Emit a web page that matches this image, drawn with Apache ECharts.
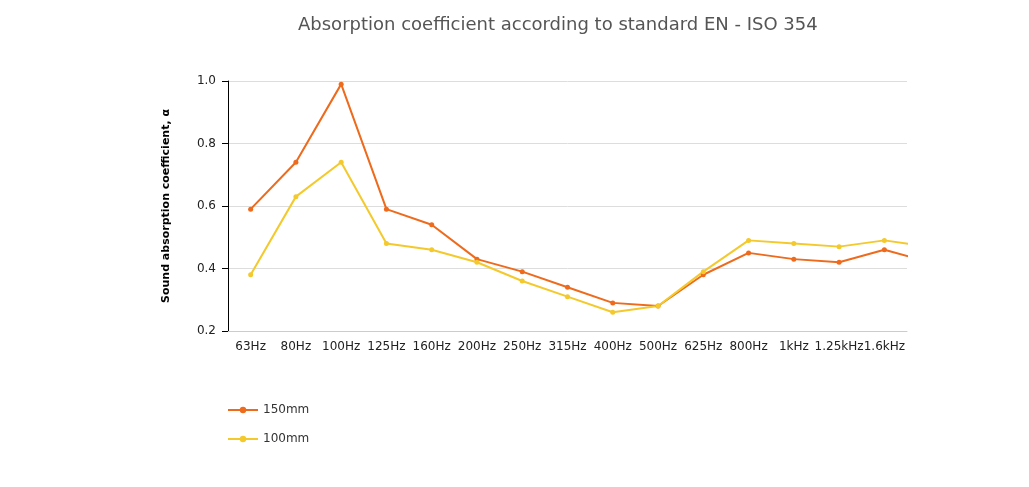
<!DOCTYPE html>
<html><head><meta charset="utf-8">
<script src="https://cdn.jsdelivr.net/npm/echarts@6/dist/echarts.min.js"></script>
<style>html,body{margin:0;padding:0;background:#fff}#c{width:1029px;height:487px}</style>
</head><body><div id="c"></div>
<script>
const categories = ['63Hz','80Hz','100Hz','125Hz','160Hz','200Hz','250Hz','315Hz','400Hz','500Hz','625Hz','800Hz','1kHz','1.25kHz','1.6kHz','2kHz'];
const visibleCategories = categories.slice(0, 15);
const s150 = [0.59,0.74,0.99,0.59,0.54,0.43,0.39,0.34,0.29,0.28,0.38,0.45,0.43,0.42,0.46,0.42];
const s100 = [0.38,0.63,0.74,0.48,0.46,0.42,0.36,0.31,0.26,0.28,0.39,0.49,0.48,0.47,0.49,0.47];
const yTicks = [0.2,0.4,0.6,0.8,1.0];

const font = '"DejaVu Sans", Verdana, sans-serif';
const chart = echarts.init(document.getElementById('c'));
chart.setOption({
  animation: false,
  title: {text: 'Absorption coefficient according to standard EN - ISO 354', left: 293, top: 11,
    textStyle: {fontFamily: font, fontSize: 18, fontWeight: 'normal', color: '#555'}},
  grid: {left: 228, right: 122, top: 81, bottom: 156},
  legend: {orient: 'vertical', left: 222, top: 399, itemWidth: 30, itemHeight: 8, itemGap: 17,
    textStyle: {fontFamily: font, fontSize: 12, color: '#333'}},
  xAxis: [
    {type: 'category', data: visibleCategories, boundaryGap: true,
      axisLine: {lineStyle: {color: '#ccc'}}, axisTick: {show: false},
      axisLabel: {fontFamily: font, fontSize: 12, color: '#222', margin: 10, interval: 0}},
    {type: 'value', min: -0.5, max: 14.5, show: false}
  ],
  yAxis: {type: 'value', min: yTicks[0], max: yTicks[yTicks.length-1], interval: 0.2,
    name: 'Sound absorption coefficient, α', nameLocation: 'middle', nameGap: 56,
    nameTextStyle: {fontFamily: font, fontSize: 11, fontWeight: 'bold', color: '#000'},
    axisLine: {show: true, onZero: false, lineStyle: {color: '#000'}},
    axisTick: {show: true, length: 6, lineStyle: {color: '#000'}},
    axisLabel: {fontFamily: font, fontSize: 12, color: '#222', margin: 12, formatter: v => v.toFixed(1)},
    splitLine: {lineStyle: {color: '#ddd'}}},
  series: [
    {name: '150mm', type: 'line', xAxisIndex: 1, clip: true,
      data: s150.map((v,i)=>[i,v]), symbol: 'circle', symbolSize: 5,
      color: '#ee6a1c', lineStyle: {width: 2}},
    {name: '100mm', type: 'line', xAxisIndex: 1, clip: true,
      data: s100.map((v,i)=>[i,v]), symbol: 'circle', symbolSize: 5,
      color: '#f4c92c', lineStyle: {width: 2}}
  ]
});
</script></body></html>
